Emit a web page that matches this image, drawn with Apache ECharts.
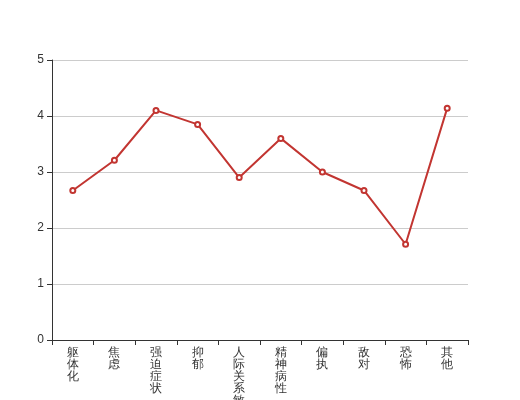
<!DOCTYPE html>
<html><head><meta charset="utf-8">
<script src="https://cdn.jsdelivr.net/npm/echarts@6/dist/echarts.min.js"></script>
<style>html,body{margin:0;padding:0;background:#fff}#c{width:520px;height:400px}</style>
</head><body><div id="c"></div>
<script>
const categories = ['躯体化','焦虑','强迫症状','抑郁','人际关系敏感','精神病性','偏执','敌对','恐怖','其他'];
const values = [2.67, 3.21, 4.10, 3.85, 2.90, 3.60, 3.00, 2.67, 1.71, 4.14];
const yTicks = {min: 0, max: 5, interval: 1};

const chart = echarts.init(document.getElementById('c'));
chart.setOption({
  animation: false,
  grid: {left: 52, right: 52, top: 60, bottom: 60, containLabel: false, outerBoundsMode: 'none'},
  xAxis: {
    type: 'category',
    data: categories,
    axisLine: {lineStyle: {color: '#333'}},
    axisTick: {show: true, length: 5, lineStyle: {color: '#333'}},
    axisLabel: {
      interval: 0, color: '#333', fontSize: 12, lineHeight: 12,
      margin: 7,
      formatter: v => v.split('').join('\n')
    }
  },
  yAxis: {
    type: 'value',
    min: yTicks.min, max: yTicks.max, interval: yTicks.interval,
    axisLine: {show: true, lineStyle: {color: '#333'}},
    axisTick: {show: true, length: 5, lineStyle: {color: '#333'}},
    axisLabel: {color: '#333', fontSize: 12},
    splitLine: {lineStyle: {color: '#ccc'}}
  },
  series: [{
    type: 'line',
    data: values,
    symbol: 'emptyCircle',
    symbolSize: 5,
    itemStyle: {color: '#c23531', borderWidth: 1},
    lineStyle: {color: '#c23531', width: 2}
  }]
});
</script></body></html>
